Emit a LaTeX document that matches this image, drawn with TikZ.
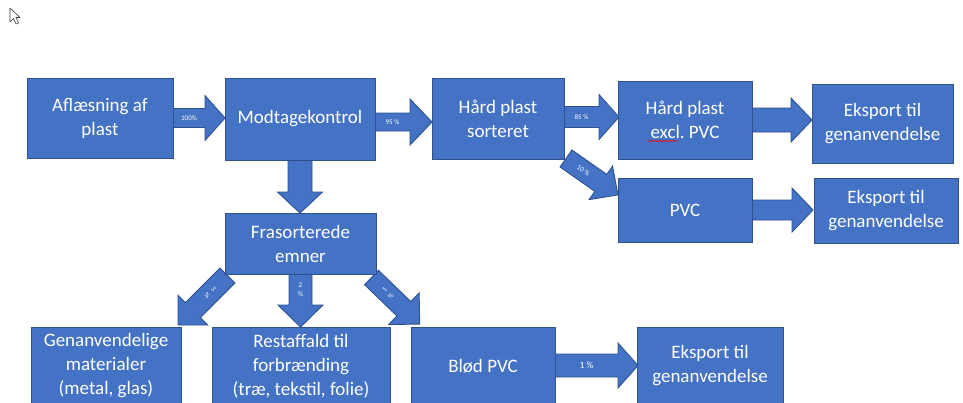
\documentclass[tikz,border=0pt]{standalone}
\usepackage{fontspec}
\setmainfont{Carlito}
\usetikzlibrary{decorations.pathmorphing}
\definecolor{obfill}{HTML}{4472C4}
\definecolor{obline}{HTML}{2F528F}
\frenchspacing
\tikzset{
  box/.style={draw=obline, fill=obfill, line width=0.9pt, text=white, align=center,
    inner sep=0pt, font=\fontsize{19}{24}\selectfont},
  barrow/.style={draw=obline, fill=obfill, line width=0.9pt},
  arrlabel/.style={text=white, align=center, inner sep=0pt, font=\fontsize{7}{9}\selectfont},
  squiggle/.style={draw=red, line width=0.5pt, decorate,
    decoration={snake, amplitude=0.7pt, segment length=3pt}},
  cursorshape/.style={fill=white, draw=black!75, line width=0.6pt, line join=round}
}
% x, y, angle, length, shaft half width, head half width, head length, label rotation, label
\newcommand\blockarr[9]{%
  \begin{scope}[shift={(#1,#2)},rotate=#3]
    \filldraw[barrow] (0,-#5) -- ({#4-#7},-#5) -- ({#4-#7},-#6) -- (#4,0)
      -- ({#4-#7},#6) -- ({#4-#7},#5) -- (0,#5) -- cycle;
    \node[arrlabel, rotate=#8] at ({(#4-#7)/2},0) {#9};
  \end{scope}}
\begin{document}
\begin{tikzpicture}[x=1pt,y=-1pt]
\useasboundingbox (0,0) rectangle (963,402);
\clip (0,0) rectangle (963,402);
\fill[white] (0,0) rectangle (963,402);

% cursor
\filldraw[cursorshape] (10,8) -- (10,22) -- (13.5,18.5) -- (16,24) -- (18.5,23) -- (16,17.5) -- (20,17.5) -- cycle;

% block arrows
\blockarr{173}{118}{0}{52}{9.5}{22.5}{20}{0}{100\%}
\blockarr{375}{122}{0}{57}{9}{23}{22}{0}{95 \%}
\blockarr{564}{117}{0}{55}{10.5}{22.5}{20}{0}{85 \%}
\blockarr{752}{120}{0}{60}{12}{22}{21}{0}{}
\blockarr{752}{210}{0}{61}{10}{22}{21}{0}{}
\blockarr{566}{158.5}{-35}{63.5}{10.4}{20.4}{21}{-35}{10 \%}
\blockarr{300}{160}{-90}{53}{12}{22.5}{21}{0}{}
\blockarr{300.5}{274}{-90}{53}{11.5}{22.5}{22}{0}{2\\\%}
\blockarr{227.5}{275.5}{-135}{70}{10.6}{21}{21}{-45}{3\\\%}
\blockarr{371.5}{277.5}{-44}{67}{10}{22}{22}{45}{1\\\%}
\blockarr{555}{365.5}{0}{83}{11.5}{22.5}{20}{0}{{\fontsize{9.5}{11}\selectfont 1 \%}}

% boxes
\node[box, minimum width=146pt, minimum height=80pt] (afl) at (100,118) {Aflæsning af\\plast};
\node[box, minimum width=150pt, minimum height=82pt] (mod) at (300,119) {Modtagekontrol};
\node[box, minimum width=132pt, minimum height=81pt] (hps) at (498,118.5) {Hård plast\\sorteret};
\node[box, minimum width=134pt, minimum height=78pt] (hpe) at (685,120) {Hård plast\\excl. PVC};
\node[box, minimum width=141pt, minimum height=79pt] (eks1) at (882.5,123.5) {Eksport til\\genanvendelse};
\node[box, minimum width=134pt, minimum height=64pt] (pvc) at (685,210) {PVC};
\node[box, minimum width=144pt, minimum height=65pt] (eks2) at (886,210.5) {Eksport til\\genanvendelse};
\node[box, minimum width=151pt, minimum height=61pt] (fra) at (300.5,243.5) {Frasorterede\\emner};
\node[box, minimum width=150pt, minimum height=78pt] (gen) at (106,366) {Genanvendelige\\materialer\\(metal, glas)};
\node[box, minimum width=178pt, minimum height=78pt] (rest) at (301,366) {Restaffald til\\forbrænding\\(træ, tekstil, folie)};
\node[box, minimum width=144pt, minimum height=78pt] (blod) at (483,366) {Blød PVC};
\node[box, minimum width=146pt, minimum height=78pt] (eks3) at (710,366) {Eksport til\\genanvendelse};

% spell-check mark under "excl"
\draw[squiggle] (648,141) -- (678,141);
\end{tikzpicture}
\end{document}
